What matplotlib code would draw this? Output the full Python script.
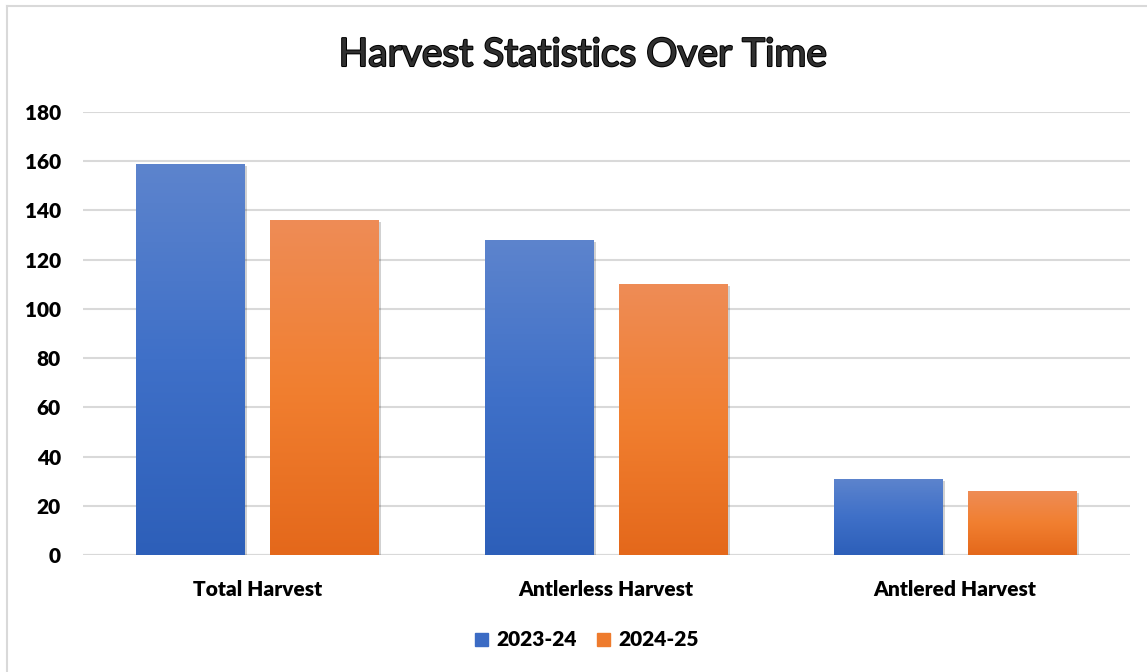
import numpy as np
import matplotlib.pyplot as plt
import matplotlib.patheffects as pe
from matplotlib.colors import LinearSegmentedColormap
from matplotlib.lines import Line2D

# data
categories = ['Total Harvest', 'Antlerless Harvest', 'Antlered Harvest']
seasons = ['2023-24', '2024-25']
harvest_2023_24 = [159, 128, 31]
harvest_2024_25 = [136, 110, 26]
yticks = [0, 20, 40, 60, 80, 100, 120, 140, 160, 180]

plt.rcParams['font.family'] = ['Lato', 'DejaVu Sans']

fig = plt.figure(figsize=(11.47, 6.72), dpi=100)
ax = fig.add_axes([83 / 1147, 1 - 555 / 672, (1129.5 - 83) / 1147, (555 - 112) / 672])

# chart border (top and left only, as in the reference)
fig.add_artist(Line2D([7 / 1147, 7 / 1147], [0, 1 - 6 / 672], color='#d9d9d9', lw=1.5))
fig.add_artist(Line2D([7 / 1147, 1], [1 - 6 / 672, 1 - 6 / 672], color='#d9d9d9', lw=1.5))

x = np.arange(len(categories))
width = 0.312
offset = 0.192

blue_cmap = LinearSegmentedColormap.from_list('b', ['#2d5fb9', '#3f70c8', '#5d84cd'])
orange_cmap = LinearSegmentedColormap.from_list('o', ['#e4681b', '#f17f30', '#ee8c56'])

shadow = [pe.SimplePatchShadow(offset=(1.5, -1.5), shadow_rgbFace='#000000', alpha=0.18), pe.Normal()]

bars1 = ax.bar(x - offset, harvest_2023_24, width, color='#4472c4', zorder=3, path_effects=shadow)
bars2 = ax.bar(x + offset, harvest_2024_25, width, color='#ed7d31', zorder=3, path_effects=shadow)

grad = np.linspace(0, 1, 256).reshape(-1, 1)
for bars, cmap in [(bars1, blue_cmap), (bars2, orange_cmap)]:
    for b in bars:
        x0, y0 = b.get_x(), b.get_y()
        x1, y1 = x0 + b.get_width(), y0 + b.get_height()
        im = ax.imshow(grad, cmap=cmap, origin='lower', extent=[x0, x1, y0, y1],
                       aspect='auto', zorder=4, interpolation='bilinear')
        im.set_clip_path(b)

ax.set_xlim(-0.5, 2.5)
ax.set_ylim(0, 180)
ax.set_yticks(yticks)
ax.set_yticklabels([str(t) for t in yticks], fontsize=15, fontweight='heavy')
ax.set_xticks(x)
ax.set_xticklabels(categories, fontsize=15, fontweight='heavy')
ax.tick_params(axis='both', length=0)
ax.tick_params(axis='y', pad=16)
ax.tick_params(axis='x', pad=18)

ax.grid(axis='y', color='#d9d9d9', lw=1.5, zorder=0)
for s in ax.spines.values():
    s.set_visible(False)
ax.axhline(0, color='#d9d9d9', lw=1.5, zorder=2)

fig.text(583 / 1147, 1 - 55 / 672, 'Harvest Statistics Over Time', ha='center', va='center',
         fontsize=28, color='#303030',
         path_effects=[pe.withStroke(linewidth=1.5, foreground='black')])

leg = fig.legend([bars1, bars2], seasons, loc='center', bbox_to_anchor=(587 / 1147, 1 - 640 / 672),
                 ncol=2, frameon=False, prop={'size': 15, 'weight': 'heavy'},
                 handlelength=0.6, handleheight=0.6, handletextpad=0.4, columnspacing=1.0)
for h, c in zip(leg.legend_handles, ['#3b6bc4', '#ee7b2d']):
    h.set_path_effects([])
    h.set_color(c)

fig.savefig('out.png', dpi=100)
